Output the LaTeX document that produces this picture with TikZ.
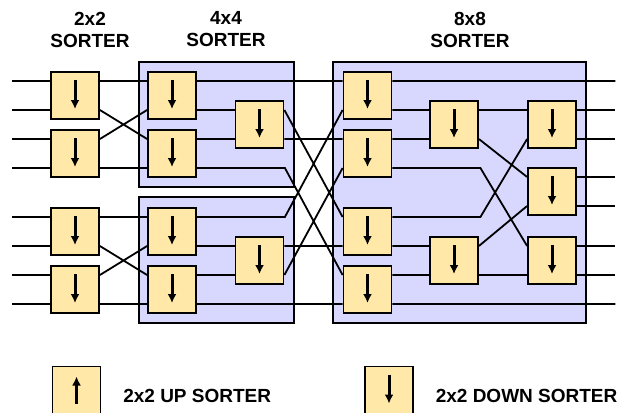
\documentclass[tikz,border=0pt]{standalone}
\usepackage{fontspec}
\setmainfont{Liberation Sans}
\newfontfamily\labelfont{Liberation Sans Bold}
\usetikzlibrary{arrows.meta, positioning}
\definecolor{boxyellow}{RGB}{255,232,168}
\definecolor{lavender}{RGB}{216,216,255}

\begin{document}
\begin{tikzpicture}[x=1pt,y=-1pt,line width=1.8pt,
	>={Latex[length=9pt,width=9pt]},
	font=\labelfont\fontsize{19pt}{22pt}\selectfont]
	
	\tikzset{sort box/.style={draw=black, fill=boxyellow, line width=1.8pt,
			minimum width=48pt, minimum height=47pt, inner sep=0pt}}
	\tikzset{down sort/.style={sort box, path picture={
				\draw[->, line width=3pt] ([yshift=-8pt]path picture bounding box.north)
				-- ([yshift=10pt]path picture bounding box.south);}}}
	\tikzset{up sort/.style={sort box, path picture={
				\draw[->, line width=3pt] ([yshift=10pt]path picture bounding box.south)
				-- ([yshift=-10pt]path picture bounding box.north);}}}
	\tikzset{stage frame/.style={draw=black, fill=lavender, line width=1.8pt}}
	\tikzset{title/.style={align=center, inner sep=0pt}}
	\tikzset{hi/.style={yshift=14.5pt}, lo/.style={yshift=-14.5pt}}
	
	\useasboundingbox (0,0) rectangle (620,412);
	
	% titles
	\node[title] (T2) at (90,29.5) {2x2\\SORTER};
	\node[title] (T4) at (226,29.5) {4x4\\SORTER};
	\node[title] (T8) at (470,29.5) {8x8\\SORTER};
	
	% frames
	\draw[stage frame] (139,62) rectangle (294,187);
	\draw[stage frame] (139,197) rectangle (294,323);
	\draw[stage frame] (333,62) rectangle (586,323);
	
	% 2x2 sorters
	\node[down sort] (a1) at (75,95.5) {};
	\node[down sort] (a2) at (75,153.5) {};
	\node[down sort] (a3) at (75,231.5) {};
	\node[down sort] (a4) at (75,289.5) {};
	
	% 4x4 sorters
	\node[down sort] (b1) at (172,95.5) {};
	\node[down sort] (b2) at (172,153.5) {};
	\node[down sort] (b3) at (172,231.5) {};
	\node[down sort] (b4) at (172,289.5) {};
	\node[down sort] (c1) at (259.5,124.5) {};
	\node[down sort] (c2) at (259.5,260.5) {};
	
	% 8x8 sorter
	\node[down sort] (d1) at (367.5,95.5) {};
	\node[down sort] (d2) at (367.5,153.5) {};
	\node[down sort] (d3) at (367.5,231.5) {};
	\node[down sort] (d4) at (367.5,289.5) {};
	\node[down sort] (e1) at (454,124.5) {};
	\node[down sort] (e2) at (454,260.5) {};
	\node[down sort] (f1) at (552,124.5) {};
	\node[down sort] (f2) at (552,191.5) {};
	\node[down sort] (f3) at (552,260.5) {};
	
	% inputs and outputs
	\foreach \n in {a1,a2,a3,a4}
	\draw ([hi]\n.west) -- ++(-38,0) ([lo]\n.west) -- ++(-38,0);
	\foreach \n in {f1,f2,f3}
	\draw ([hi]\n.east) -- ++(38,0) ([lo]\n.east) -- ++(38,0);
	
	% 2x2 -> 4x4
	\draw ([hi]a1.east) -- ([hi]b1.west)
	([lo]a1.east) -- ([hi]b2.west)
	([hi]a2.east) -- ([lo]b1.west)
	([lo]a2.east) -- ([lo]b2.west)
	([hi]a3.east) -- ([hi]b3.west)
	([lo]a3.east) -- ([hi]b4.west)
	([hi]a4.east) -- ([lo]b3.west)
	([lo]a4.east) -- ([lo]b4.west);
	
	% inside 4x4
	\draw ([lo]b1.east) -- ([hi]c1.west)
	([hi]b2.east) -- ([lo]c1.west)
	([lo]b3.east) -- ([hi]c2.west)
	([hi]b4.east) -- ([lo]c2.west);
	
	% 4x4 -> 8x8
	\draw ([hi]b1.east) -- ([hi]d1.west)
	([hi]c1.east) -- ([hi]d3.west)
	([lo]c1.east) -- ([hi]d2.west)
	([lo]b2.east) -- ++(88,0) -- ([hi]d4.west)
	([hi]b3.east) -- ++(88,0) -- ([lo]d1.west)
	([hi]c2.east) -- ([lo]d3.west)
	([lo]c2.east) -- ([lo]d2.west)
	([lo]b4.east) -- ([lo]d4.west);
	
	% inside 8x8
	\draw ([hi]d1.east) -- ++(223,0)
	([lo]d4.east) -- ++(223,0)
	([lo]d1.east) -- ([hi]e1.west)
	([hi]d2.east) -- ([lo]e1.west)
	([lo]d2.east) -- ++(88,0) -- ([hi]f3.west)
	([hi]d3.east) -- ++(88,0) -- ([lo]f1.west)
	([lo]d3.east) -- ([hi]e2.west)
	([hi]d4.east) -- ([lo]e2.west)
	([hi]e1.east) -- ([hi]f1.west)
	([lo]e1.east) -- ([hi]f2.west)
	([hi]e2.east) -- ([lo]f2.west)
	([lo]e2.east) -- ([lo]f3.west);
	
	% legend
	\node[up sort] (upkey) at (76.5,390) {};
	\node[down sort] (downkey) at (389,390) {};
	\node[inner sep=0pt, right=21pt of upkey, yshift=-6pt] (uptext) {2x2 UP SORTER};
	\node[inner sep=0pt, right=21pt of downkey, yshift=-6pt] (downtext) {2x2 DOWN SORTER};
\end{tikzpicture}
\end{document}
